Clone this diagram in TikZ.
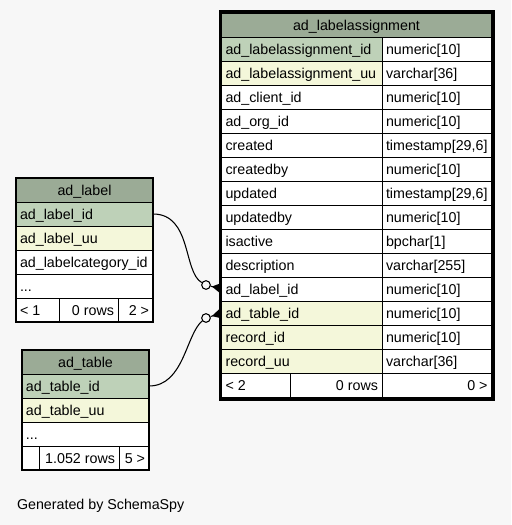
\documentclass[tikz,border=0pt]{standalone}
\usepackage{fontspec}
\setmainfont{Liberation Sans}
\usetikzlibrary{calc}
\definecolor{bg}{HTML}{F7F7F7}
\definecolor{hdr}{HTML}{9BAB96}
\definecolor{pk}{HTML}{BED1B8}
\definecolor{idx}{HTML}{F4F7DA}

% name, x1, y1, x2, y2, fill, text
\newcommand\cellL[7]{%
  \node[cellbox, fill=#6, minimum width={(#4-#2)*0.75pt}, minimum height={(#5-#3)*0.75pt}, anchor=north west] (#1) at (#2,#3) {};
  \node[txt, anchor=base west] (#1-t) at ([xshift=3pt, yshift=-3.75pt]#1.west) {#7};}
\newcommand\cellR[7]{%
  \node[cellbox, fill=#6, minimum width={(#4-#2)*0.75pt}, minimum height={(#5-#3)*0.75pt}, anchor=north west] (#1) at (#2,#3) {};
  \node[txt, anchor=base east] (#1-t) at ([xshift=-3pt, yshift=-3.75pt]#1.east) {#7};}
\newcommand\cellC[7]{%
  \node[cellbox, fill=#6, minimum width={(#4-#2)*0.75pt}, minimum height={(#5-#3)*0.75pt}, anchor=north west] (#1) at (#2,#3) {};
  \node[txt, anchor=base] (#1-t) at ([yshift=-3.75pt]#1.center) {#7};}
\newcommand\cellB[6]{%
  \node[cellbox, fill=#6, minimum width={(#4-#2)*0.75pt}, minimum height={(#5-#3)*0.75pt}, anchor=north west] (#1) at (#2,#3) {};}

\begin{document}
\begin{tikzpicture}[x=0.75pt, y=-0.75pt, font=\fontsize{10.7}{12}\selectfont,
  cellbox/.style={draw=black, line width=0.75pt, inner sep=0pt, outer sep=0pt, rectangle},
  txt/.style={inner sep=0pt, outer sep=0pt, text=black},
  edge/.style={draw=black, line width=0.8pt},
  odot/.style={circle, draw=black, fill=bg, line width=0.8pt, minimum size=6.5pt, inner sep=0pt},
  crow/.style={fill=black}]
\fill[bg] (0,0) rectangle (511,525);
\useasboundingbox (0,0) rectangle (511,525);

% ---- ad_labelassignment ----
\cellC{la-h}{221.5}{13}{491.5}{37}{hdr}{ad\_labelassignment}
\cellL{la-1}{221.5}{37}{382}{61}{pk}{ad\_labelassignment\_id}
\cellL{la-1r}{382}{37}{491.5}{61}{white}{numeric[10]}
\cellL{la-2}{221.5}{61}{382}{85}{idx}{ad\_labelassignment\_uu}
\cellL{la-2r}{382}{61}{491.5}{85}{white}{varchar[36]}
\cellL{la-3}{221.5}{85}{382}{109}{white}{ad\_client\_id}
\cellL{la-3r}{382}{85}{491.5}{109}{white}{numeric[10]}
\cellL{la-4}{221.5}{109}{382}{133}{white}{ad\_org\_id}
\cellL{la-4r}{382}{109}{491.5}{133}{white}{numeric[10]}
\cellL{la-5}{221.5}{133}{382}{157}{white}{created}
\cellL{la-5r}{382}{133}{491.5}{157}{white}{timestamp[29,6]}
\cellL{la-6}{221.5}{157}{382}{181}{white}{createdby}
\cellL{la-6r}{382}{157}{491.5}{181}{white}{numeric[10]}
\cellL{la-7}{221.5}{181}{382}{205}{white}{updated}
\cellL{la-7r}{382}{181}{491.5}{205}{white}{timestamp[29,6]}
\cellL{la-8}{221.5}{205}{382}{229}{white}{updatedby}
\cellL{la-8r}{382}{205}{491.5}{229}{white}{numeric[10]}
\cellL{la-9}{221.5}{229}{382}{253}{white}{isactive}
\cellL{la-9r}{382}{229}{491.5}{253}{white}{bpchar[1]}
\cellL{la-10}{221.5}{253}{382}{277}{white}{description}
\cellL{la-10r}{382}{253}{491.5}{277}{white}{varchar[255]}
\cellL{la-11}{221.5}{277}{382}{301}{white}{ad\_label\_id}
\cellL{la-11r}{382}{277}{491.5}{301}{white}{numeric[10]}
\cellL{la-12}{221.5}{301}{382}{325}{idx}{ad\_table\_id}
\cellL{la-12r}{382}{301}{491.5}{325}{white}{numeric[10]}
\cellL{la-13}{221.5}{325}{382}{349}{idx}{record\_id}
\cellL{la-13r}{382}{325}{491.5}{349}{white}{numeric[10]}
\cellL{la-14}{221.5}{349}{382}{373}{idx}{record\_uu}
\cellL{la-14r}{382}{349}{491.5}{373}{white}{varchar[36]}
\cellL{la-f1}{221.5}{373}{290}{397}{white}{< 2}
\cellR{la-f2}{290}{373}{382}{397}{white}{0 rows}
\cellR{la-f3}{382}{373}{491.5}{397}{white}{0 >}
\draw[line width=2.25pt] (220,11) rectangle (493,399);

% ---- ad_label ----
\cellC{lb-h}{16}{178}{153}{202}{hdr}{ad\_label}
\cellL{lb-1}{16}{202}{153}{226}{pk}{ad\_label\_id}
\cellL{lb-2}{16}{226}{153}{250}{idx}{ad\_label\_uu}
\cellL{lb-3}{16}{250}{153}{274}{white}{ad\_labelcategory\_id}
\cellL{lb-4}{16}{274}{153}{298}{white}{...}
\cellL{lb-f1}{16}{298}{59}{322}{white}{< 1}
\cellR{lb-f2}{59}{298}{118}{322}{white}{0 rows}
\cellR{lb-f3}{118}{298}{153}{322}{white}{2 >}
\draw[line width=1.1pt] (16,178) rectangle (153,322);

% ---- ad_table ----
\cellC{lt-h}{22}{350}{149}{374}{hdr}{ad\_table}
\cellL{lt-1}{22}{374}{149}{398}{pk}{ad\_table\_id}
\cellL{lt-2}{22}{398}{149}{422}{idx}{ad\_table\_uu}
\cellL{lt-3}{22}{422}{149}{446}{white}{...}
\cellB{lt-f1}{22}{446}{39}{470}{white}
\cellR{lt-f2}{39}{446}{119}{470}{white}{1.052 rows}
\cellR{lt-f3}{119}{446}{149}{470}{white}{5 >}
\draw[line width=1.1pt] (22,350) rectangle (149,470);

% ---- connectors ----
\node[odot] (o1) at (206,285) {};
\node[odot] (o2) at (206,318) {};
\draw[edge] (lb-1.east) .. controls (192,214) and (183,272) .. (o1);
\draw[edge] (o1) -- (la-11.west);
\fill[crow] ($(o1)!0.38!(la-11.west)$) -- ([yshift=4.5pt]la-11.west) -- ([yshift=-4pt]la-11.west) -- cycle;
\draw[edge] (lt-1.east) .. controls (184,386) and (186,334) .. (o2);
\draw[edge] (o2) -- (la-12.west);
\fill[crow] ($(o2)!0.38!(la-12.west)$) -- ([yshift=4.5pt]la-12.west) -- ([yshift=-4pt]la-12.west) -- cycle;

\node[txt, anchor=base west] (gen) at (17,509) {Generated by SchemaSpy};
\end{tikzpicture}
\end{document}
